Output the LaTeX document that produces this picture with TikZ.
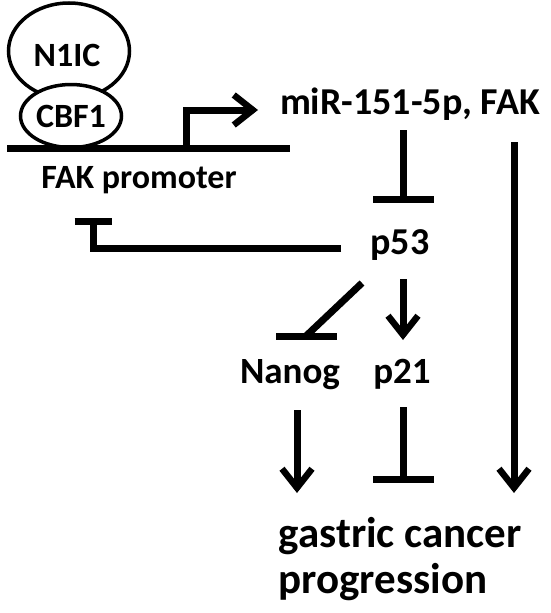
\documentclass[tikz,border=0pt]{standalone}
\usepackage{fontspec}
\setmainfont{Carlito}
\usetikzlibrary{arrows.meta,shapes.geometric}
\tikzset{
  lbl/.style={inner sep=0pt, font=\bfseries},
  conn/.style={line width=7pt, line join=miter},
  act/.style={conn, -{Straight Barb[length=19pt,width=30pt,line width=6.5pt]}},
  inh/.style={conn, -{Bar[width=#1,line width=7pt]}},
  inh/.default=61pt,
  prot/.style={draw, ellipse, line width=3.5pt, inner sep=0pt, fill=white}
}
\begin{document}
\begin{tikzpicture}[x=1pt,y=-1pt]
\useasboundingbox (0,0) rectangle (550,613);
% proteins
\node[prot, minimum width=121pt, minimum height=96pt] (n1ic) at (69,51) {};
\node[lbl, font=\bfseries\fontsize{34}{36}\selectfont] (n1ictext) at (67,55) {N1IC};
\node[prot, minimum width=101pt, minimum height=63pt] (cbf1) at (71,116) {};
\node[lbl, font=\bfseries\fontsize{34}{36}\selectfont] (cbf1text) at (71,116) {CBF1};
% promoter
\coordinate (pl) at (7,148);
\coordinate (pr) at (290,148);
\draw[conn] (pl) -- (pr);
\coordinate (tss) at (186,148);
\coordinate (tsstop) at (186,110);
\coordinate (tssend) at (258,110);
\draw[act] (tss) -- (tsstop) -- (tssend);
\node[lbl, anchor=base, font=\bfseries\fontsize{34}{36}\selectfont] (prom) at (139,188) {FAK promoter};
% texts
\node[lbl, anchor=base, font=\bfseries\fontsize{38}{40}\selectfont] (mir) at (410,114) {miR-151-5p, FAK};
\node[lbl, anchor=base, font=\bfseries\fontsize{38}{40}\selectfont] (p53) at (400,254) {p53};
\node[lbl, anchor=base, font=\bfseries\fontsize{37}{40}\selectfont] (nanog) at (290,383) {Nanog};
\node[lbl, anchor=base, font=\bfseries\fontsize{37}{40}\selectfont] (p21) at (402,383) {p21};
\node[lbl, anchor=base, font=\bfseries\fontsize{43}{46}\selectfont] (gc1) at (400,547) {gastric cancer};
\node[lbl, anchor=base, font=\bfseries\fontsize{43}{46}\selectfont] (gc2) at (383,593) {progression};
% connectors
\coordinate (a1) at (403,130); \coordinate (a2) at (403,203);
\draw[inh] (a1) -- (a2);
\coordinate (b1) at (341,248); \coordinate (b2) at (93,248); \coordinate (b3) at (93,218);
\draw[inh=37pt] (b1) -- (b2) -- (b3);
\coordinate (c1) at (362,283); \coordinate (c2) at (306,336);
\coordinate (c3) at (276,336); \coordinate (c4) at (337,336);
\draw[conn] (c1) -- (c2);
\draw[conn] (c3) -- (c4);
\coordinate (d1) at (403,279); \coordinate (d2) at (403,340);
\draw[act] (d1) -- (d2);
\coordinate (e1) at (297,410); \coordinate (e2) at (297,493);
\draw[act] (e1) -- (e2);
\coordinate (f1) at (403,407); \coordinate (f2) at (403,483);
\draw[inh] (f1) -- (f2);
\coordinate (g1) at (514,142); \coordinate (g2) at (514,493);
\draw[act] (g1) -- (g2);
\end{tikzpicture}
\end{document}
